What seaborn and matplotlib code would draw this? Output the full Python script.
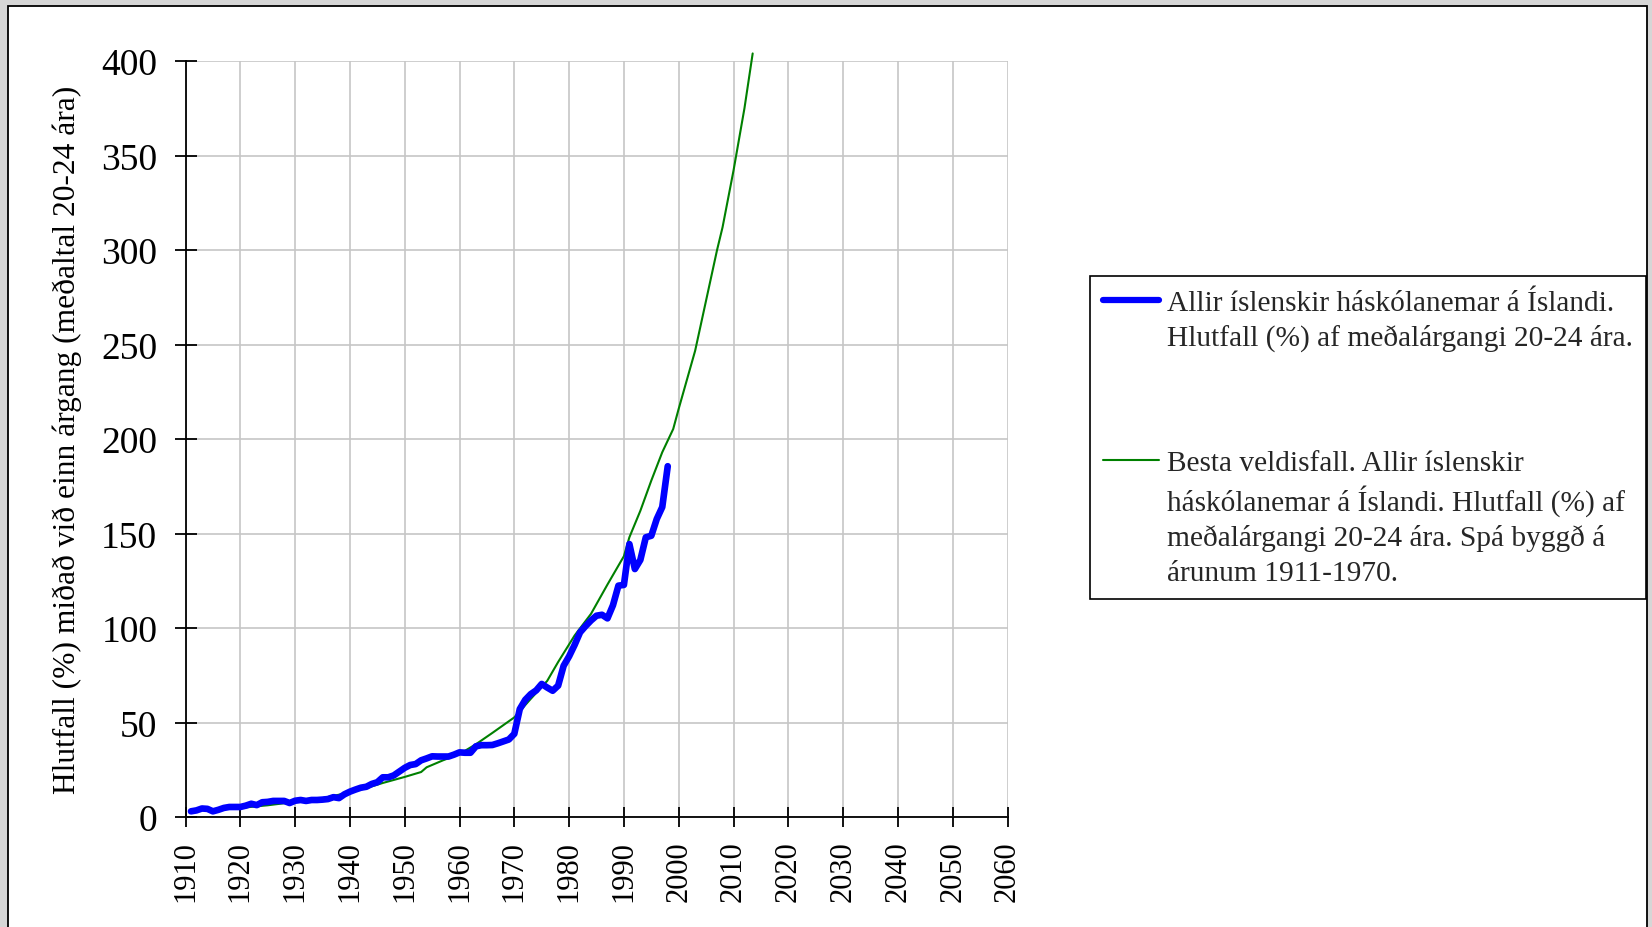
import matplotlib
matplotlib.use("Agg")
import matplotlib.pyplot as plt
from matplotlib.lines import Line2D
from matplotlib.patches import Rectangle
import pandas as pd
import seaborn as sns

# Allir íslenskir háskólanemar, hlutfall (%) af meðalárgangi 20-24 ára
student_years = list(range(1911, 1999))
student_share = [
    3.0, 3.5, 4.5, 4.3, 3.0, 3.8, 4.8, 5.3, 5.3, 5.3,
    6.0, 7.0, 6.3, 7.8, 8.0, 8.5, 8.5, 8.5, 7.4, 8.6,
    9.0, 8.5, 9.0, 9.0, 9.2, 9.5, 10.5, 10.0, 12.0, 13.4,
    14.5, 15.5, 16.0, 17.5, 18.4, 21.0, 21.0, 22.0, 24.0, 26.0,
    27.5, 28.0, 30.0, 31.0, 32.1, 32.0, 32.0, 32.0, 33.0, 34.2,
    34.0, 34.0, 37.4, 38.0, 38.0, 38.1, 39.0, 40.0, 41.0, 44.0,
    57.1, 62.0, 65.0, 67.0, 70.4, 68.5, 66.8, 69.5, 80.0, 85.0,
    91.0, 97.7, 101.0, 104.0, 106.5, 107.0, 105.1, 112.0, 122.4, 122.8,
    144.4, 131.2, 136.0, 148.0, 148.8, 157.7, 164.0, 185.6,
]

# Besta veldisfall, spá byggð á árunum 1911-1970
fit_years = [1911, 1915, 1920, 1925, 1930, 1935, 1940, 1943, 1946, 1950,
             1953, 1954, 1957, 1960, 1963, 1966, 1970, 1973, 1976, 1978,
             1981, 1984, 1987, 1990, 1991, 1993, 1995, 1997, 1999, 2000,
             2003, 2004, 2007, 2008, 2010, 2012, 2013.5]
fit_share = [3.3, 3.9, 4.8, 6.2, 8.0, 10.0, 13.0, 15.3, 18.0, 21.2,
             23.8, 26.3, 30.0, 33.3, 38.5, 44.5, 52.7, 62.5, 72.0, 82.0,
             96.0, 107.5, 123.0, 138.0, 148.0, 162.0, 178.0, 193.0, 205.3, 216.0,
             246.7, 260.0, 300.0, 312.0, 342.0, 375.0, 404.0]

x_ticks = list(range(1910, 2061, 10))
y_ticks = list(range(0, 401, 50))

ylabel = "Hlutfall (%) miðað við einn árgang (meðaltal 20-24 ára)"
student_label = ["Allir íslenskir háskólanemar á Íslandi.",
                 "Hlutfall (%) af meðalárgangi 20-24 ára."]
fit_label = ["Besta veldisfall. Allir íslenskir",
             "háskólanemar á Íslandi. Hlutfall (%) af",
             "meðalárgangi 20-24 ára. Spá byggð á",
             "árunum 1911-1970."]

sns.set_style("whitegrid")
plt.rcParams["font.family"] = ["Liberation Serif", "DejaVu Serif"]

W, H = 1652, 928
fig = plt.figure(figsize=(W / 100, H / 100), dpi=100)
fig.patch.set_facecolor("#d6d6d6")
fig.add_artist(Rectangle((8 / W, -0.01), (1647 - 8) / W, 1 - 7 / H + 0.01,
                         transform=fig.transFigure, facecolor="white",
                         edgecolor="black", lw=1.3, zorder=-1))

ax = fig.add_axes([185.5 / W, 1 - 818 / H, (1007.5 - 185.5) / W, (818 - 62) / H])

students = pd.DataFrame({"year": student_years, "share": student_share})
fit = pd.DataFrame({"year": fit_years, "share": fit_share})

sns.lineplot(data=fit, x="year", y="share", ax=ax, color="#008000",
             linewidth=1.5, clip_on=False, zorder=3)
sns.lineplot(data=students, x="year", y="share", ax=ax, color="#0000ff",
             linewidth=4.8, solid_joinstyle="round", solid_capstyle="round", zorder=4)

ax.set_xlim(1910, 2060)
ax.set_ylim(0, 400)
ax.set_xticks(x_ticks)
ax.set_yticks(y_ticks)
ax.grid(True, color="#c6c6c6", linewidth=1.2)
ax.set_facecolor("white")
for side in ("top", "right"):
    ax.spines[side].set_visible(False)
for side in ("left", "bottom"):
    ax.spines[side].set_color("black")
    ax.spines[side].set_linewidth(1.3)

ax.tick_params(axis="y", direction="inout", length=16.5, width=1.3,
               pad=12, labelsize=27, color="black", labelcolor="black", left=True)
ax.tick_params(axis="x", direction="inout", length=14, width=1.3,
               pad=10, labelsize=22, labelrotation=90, color="black",
               labelcolor="black", bottom=True)

ax.set_xlabel("")
ax.set_ylabel(ylabel, fontsize=22.7, color="black")
ax.yaxis.set_label_coords(-0.126, 0.5)

blank = Line2D([], [], color="none")
blue = Line2D([], [], color="#0000ff", linewidth=4.5, solid_capstyle="round")
green = Line2D([], [], color="#008000", linewidth=1.5)
handles = [blue, blank, blank, blank, green, blank, blank, blank]
labels = student_label + ["", ""] + fit_label
leg = fig.legend(handles, labels, loc="upper left",
                 bbox_to_anchor=(1089.5 / W, 1 - 277 / H),
                 bbox_transform=fig.transFigure, borderaxespad=0,
                 fontsize=21.2, frameon=True, fancybox=False, shadow=False,
                 borderpad=0.45, labelspacing=0.28, handlelength=1.9,
                 handletextpad=0.27)
leg.get_frame().set_edgecolor("black")
leg.get_frame().set_linewidth(1.2)
leg.get_frame().set_facecolor("white")
leg.get_frame().set_alpha(1)
leg.get_texts()[2].set_fontsize(36)

fig.savefig("out.png", dpi=100, facecolor=fig.get_facecolor())
